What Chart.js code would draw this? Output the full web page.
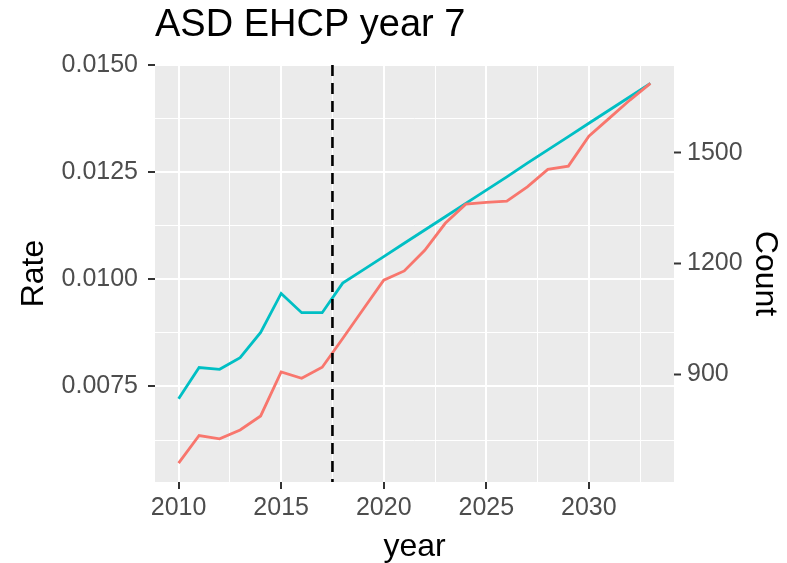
<!DOCTYPE html>
<html><head><meta charset="utf-8">
<script src="https://cdn.jsdelivr.net/npm/chart.js@4"></script>
<style>html,body{margin:0;padding:0;background:#fff}#wrap{width:787px;height:563px}</style>
</head><body><div id="wrap"><canvas id="c" width="787" height="563"></canvas></div>
<script>
// ---- data ----
const years = [2010,2011,2012,2013,2014,2015,2016,2017,2018,2019,2020,2021,2022,2023,2024,2025,2026,2027,2028,2029,2030,2031,2032,2033];
const rateValues = [0.00721,0.00794,0.00790,0.00817,0.00876,0.00967,0.00922,0.00922,0.00991,0.01022,0.01053,0.01084,0.01115,0.01146,0.01177,0.01208,0.01239,0.01271,0.01302,0.01333,0.01364,0.01395,0.01426,0.01457];
const countValues = [659,734,725,749,787,906,889,919,997,1076,1155,1180,1236,1309,1361,1366,1369,1408,1455,1464,1545,1594,1643,1688];
const cutoffYear = 2017.5;
const titleText = 'ASD EHCP year 7';
const rateTicks = [0.0075,0.0100,0.0125,0.0150];
const rateMinorTicks = [0.00625,0.00875,0.01125,0.01375];
const countTicks = [900,1200,1500];
const yearTicks = [2010,2015,2020,2025,2030];
const yearMinorTicks = [2012.5,2017.5,2022.5,2027.5,2032.5];
// axis ranges (ggplot expansion)
const yearRange = [2008.85, 2034.15];
const rateRange = [0.00527, 0.0150];
const countRange = [608, 1738];

Chart.defaults.font.family = "'Liberation Sans', Arial, sans-serif";

const isMajor = (list, v) => list.some(t => Math.abs(t - v) < 1e-9);
const tickSet = (majors, minors) => (s) => { s.ticks = majors.concat(minors).sort((a,b)=>a-b).map(v => ({value: v})); };

const panelBg = {
  id: 'panelBg',
  beforeDraw(chart) {
    const {ctx, chartArea: a} = chart;
    ctx.save();
    ctx.fillStyle = '#EBEBEB';
    ctx.fillRect(a.left, a.top, a.right - a.left, a.bottom - a.top);
    ctx.restore();
  }
};

new Chart(document.getElementById('c'), {
  type: 'line',
  data: {
    datasets: [
      {
        label: 'cutoff',
        data: [{x: cutoffYear, y: rateRange[1]}, {x: cutoffYear, y: rateRange[0]}],
        yAxisID: 'y', borderColor: '#000000', borderWidth: 2.6, borderDash: [11, 7],
        pointRadius: 0, tension: 0
      },
      {
        label: 'Count',
        data: years.map((yr, i) => ({x: yr, y: countValues[i]})),
        yAxisID: 'y2', borderColor: '#F8766D', borderWidth: 2.8, pointRadius: 0, tension: 0
      },
      {
        label: 'Rate',
        data: years.map((yr, i) => ({x: yr, y: rateValues[i]})),
        yAxisID: 'y', borderColor: '#00BFC4', borderWidth: 2.8, pointRadius: 0, tension: 0
      }
    ]
  },
  options: {
    responsive: false,
    animation: false,
    devicePixelRatio: 1,
    layout: {padding: 0},
    plugins: {
      legend: {display: false},
      tooltip: {enabled: false},
      title: {
        display: true, text: titleText, align: 'start', fullSize: false,
        color: '#000000', font: {size: 38, weight: 'normal', lineHeight: 1.2},
        padding: {top: 3, bottom: 16.4}
      }
    },
    scales: {
      x: {
        type: 'linear', position: 'bottom', min: yearRange[0], max: yearRange[1],
        afterBuildTicks: tickSet(yearTicks, yearMinorTicks),
        afterFit: (s) => { s.height = 81; },
        border: {display: false},
        grid: {
          color: '#FFFFFF',
          lineWidth: (c) => isMajor(yearTicks, c.tick.value) ? 2 : 1,
          tickColor: (c) => isMajor(yearTicks, c.tick.value) ? '#333333' : 'rgba(0,0,0,0)',
          tickLength: 7, tickWidth: 2
        },
        ticks: {
          autoSkip: false, maxRotation: 0, padding: 4, color: '#4D4D4D', font: {size: 25},
          callback: (v) => isMajor(yearTicks, v) ? String(v) : ''
        },
        title: {display: true, text: 'year', color: '#000000', font: {size: 32, lineHeight: 1.0}, padding: {top: 0, bottom: 0}}
      },
      y: {
        type: 'linear', position: 'left', min: rateRange[0], max: rateRange[1],
        afterBuildTicks: tickSet(rateTicks, rateMinorTicks),
        afterFit: (s) => { s.width = 155; },
        border: {display: false},
        grid: {
          color: '#FFFFFF',
          lineWidth: (c) => isMajor(rateTicks, c.tick.value) ? 2 : 1,
          tickColor: (c) => isMajor(rateTicks, c.tick.value) ? '#333333' : 'rgba(0,0,0,0)',
          tickLength: 7, tickWidth: 2
        },
        ticks: {
          autoSkip: false, padding: 10, color: '#4D4D4D', font: {size: 25},
          callback: (v) => isMajor(rateTicks, v) ? v.toFixed(4) : ''
        },
        title: {display: true, text: 'Rate', color: '#000000', font: {size: 32, lineHeight: 1.2}, padding: {top: 15, bottom: 0}}
      },
      y2: {
        type: 'linear', position: 'right', min: countRange[0], max: countRange[1],
        afterBuildTicks: tickSet(countTicks, []),
        afterFit: (s) => { s.width = 113; },
        border: {display: false},
        grid: {
          drawOnChartArea: false, color: '#FFFFFF',
          tickColor: '#333333', tickLength: 7, tickWidth: 2
        },
        ticks: {
          autoSkip: false, padding: 6, color: '#4D4D4D', font: {size: 25},
          callback: (v) => String(v)
        },
        title: {display: true, text: 'Count', color: '#000000', font: {size: 32, lineHeight: 1.2}, padding: {top: 3, bottom: 0}}
      }
    }
  },
  plugins: [panelBg]
});
</script>
</body></html>
